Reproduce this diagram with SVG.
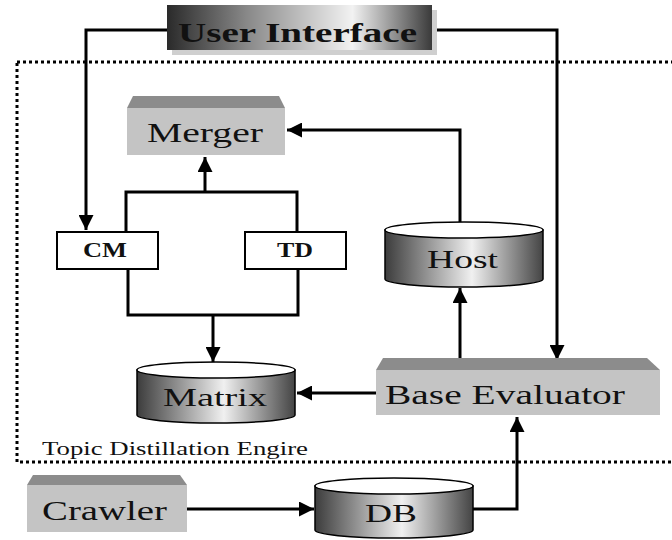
<svg xmlns="http://www.w3.org/2000/svg" width="672" height="540" viewBox="0 0 672 540">
<defs>
<style>
.ln{fill:none;stroke:#000;stroke-width:3}
.lbl{font-family:"Liberation Serif","DejaVu Serif",serif;fill:#111}
.top{fill:#8c8c8c}
.front{fill:#c4c4c4}
.cyl{fill:url(#cg);stroke:#000;stroke-width:1.5}
.cap{fill:#fff;stroke:#000;stroke-width:1.5}
.box{fill:#fff;stroke:#000;stroke-width:2}
</style>
<linearGradient id="ug" x1="0" x2="1" y1="0" y2="0">
<stop offset="0" stop-color="#2a2a2a"/>
<stop offset="0.3" stop-color="#888"/>
<stop offset="0.7" stop-color="#f2f2f2"/>
<stop offset="1" stop-color="#3a3a3a"/>
</linearGradient>
<linearGradient id="cg" x1="0" x2="1" y1="0" y2="0">
<stop offset="0" stop-color="#3c3c3c"/>
<stop offset="0.55" stop-color="#f0f0f0"/>
<stop offset="1" stop-color="#444"/>
</linearGradient>
<marker id="ah" viewBox="0 0 10 10" refX="10" refY="5" markerWidth="5" markerHeight="5" markerUnits="strokeWidth" orient="auto">
<path d="M0,0 L10,5 L0,10 Z" fill="#000"/>
</marker>
</defs>
<rect width="672" height="540" fill="#fff"/>

<g id="engine">
<rect x="17" y="62" width="670" height="400" fill="none" stroke="#000" stroke-width="3" stroke-dasharray="3,3"/>
<text class="lbl" x="42" y="455" font-size="18" textLength="266" lengthAdjust="spacingAndGlyphs">Topic Distillation Engire</text>
</g>

<g id="connectors">
<path class="ln" d="M167,30 H86 V230" marker-end="url(#ah)"/>
<path class="ln" d="M432,30 H557 V360" marker-end="url(#ah)"/>
<path class="ln" d="M460,222 V130 H287" marker-end="url(#ah)"/>
<path class="ln" d="M126,232 V192 H297 V232"/>
<path class="ln" d="M205,192 V157" marker-end="url(#ah)"/>
<path class="ln" d="M128,269 V315 H298 V269"/>
<path class="ln" d="M213,315 V362" marker-end="url(#ah)"/>
<path class="ln" d="M460,358 V288" marker-end="url(#ah)"/>
<path class="ln" d="M376,393 H297" marker-end="url(#ah)"/>
<path class="ln" d="M187,509 H314" marker-end="url(#ah)"/>
<path class="ln" d="M473,509 H517 V417" marker-end="url(#ah)"/>
</g>

<g id="user-interface">
<rect x="172" y="10" width="265" height="45" fill="#cfcfcf"/>
<rect x="167" y="5" width="265" height="45" fill="url(#ug)"/>
<text class="lbl" x="178" y="42" font-size="28" font-weight="bold" textLength="239" lengthAdjust="spacingAndGlyphs">User Interface</text>
</g>

<g id="merger">
<polygon class="top" points="127,108 133,96 279,96 285,108"/>
<rect class="front" x="127" y="108" width="158" height="47"/>
<text class="lbl" x="147" y="142" font-size="28" textLength="116" lengthAdjust="spacingAndGlyphs">Merger</text>
</g>

<g id="cm">
<rect class="box" x="57" y="232" width="101" height="37"/>
<text class="lbl" x="83" y="257" font-size="21" font-weight="bold" textLength="44" lengthAdjust="spacingAndGlyphs">CM</text>
</g>

<g id="td">
<rect class="box" x="245" y="232" width="101" height="37"/>
<text class="lbl" x="277" y="257" font-size="21" font-weight="bold" textLength="36" lengthAdjust="spacingAndGlyphs">TD</text>
</g>

<g id="host">
<path class="cyl" d="M385,230 V279 A79,8 0 0 0 543,279 V230 Z"/>
<ellipse class="cap" cx="464" cy="230" rx="79" ry="8"/>
<text class="lbl" x="427" y="268" font-size="26" textLength="71" lengthAdjust="spacingAndGlyphs">Host</text>
</g>

<g id="matrix">
<path class="cyl" d="M137,370 V415 A79,8 0 0 0 295,415 V370 Z"/>
<ellipse class="cap" cx="216" cy="370" rx="79" ry="8"/>
<text class="lbl" x="163" y="406" font-size="26" textLength="104" lengthAdjust="spacingAndGlyphs">Matrix</text>
</g>

<g id="base-evaluator">
<polygon class="top" points="376,370 383,358 647,358 660,370"/>
<rect class="front" x="376" y="370" width="284" height="45"/>
<text class="lbl" x="385" y="404" font-size="28" textLength="240" lengthAdjust="spacingAndGlyphs">Base Evaluator</text>
</g>

<g id="crawler">
<polygon class="top" points="27,485 33,475 180,475 187,485"/>
<rect class="front" x="27" y="485" width="160" height="47"/>
<text class="lbl" x="42" y="520" font-size="28" textLength="125" lengthAdjust="spacingAndGlyphs">Crawler</text>
</g>

<g id="db">
<path class="cyl" d="M315,486 V530 A79,8 0 0 0 473,530 V486 Z"/>
<ellipse class="cap" cx="394" cy="486" rx="79" ry="8"/>
<text class="lbl" x="365" y="522" font-size="26" textLength="52" lengthAdjust="spacingAndGlyphs">DB</text>
</g>
</svg>
